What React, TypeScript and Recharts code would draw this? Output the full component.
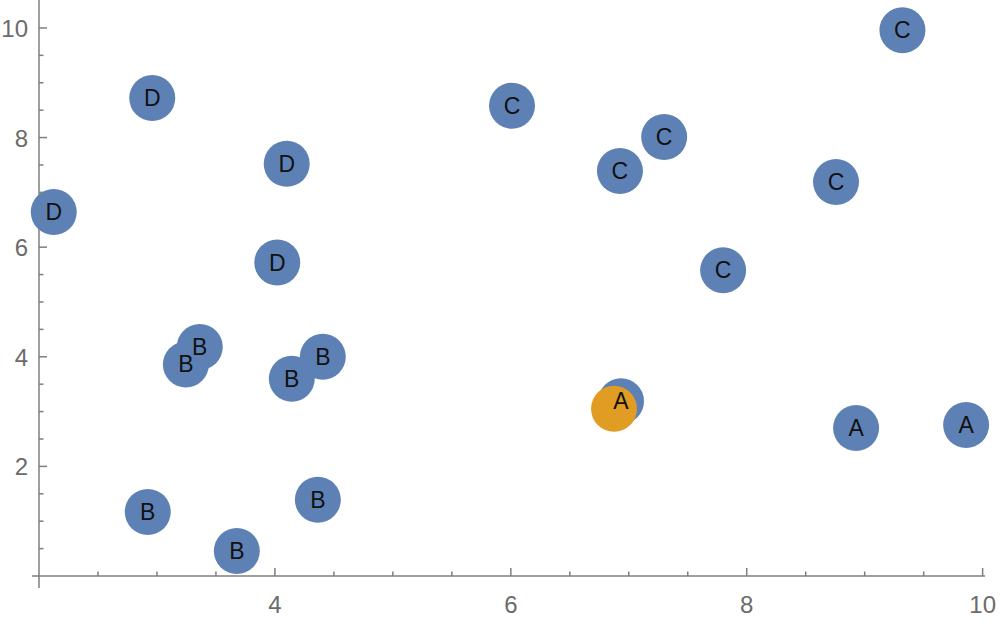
import { ScatterChart, Scatter, XAxis, YAxis, ReferenceLine } from 'recharts';

document.body.style.margin = '0';

// labelled points (blue)
const pointLabels = ['D', 'D', 'D', 'D', 'C', 'C', 'C', 'C', 'C', 'C', 'B', 'B', 'B', 'B', 'B', 'B', 'B', 'A', 'A', 'A'];
const pointX = [2.96, 4.1, 2.125, 4.02, 9.32, 6.01, 7.3, 6.925, 8.757, 7.8, 3.363, 3.245, 4.406, 4.143, 2.922, 4.364, 3.677, 6.934, 8.927, 9.86];
const pointY = [8.72, 7.52, 6.64, 5.72, 9.96, 8.58, 8.01, 7.39, 7.19, 5.58, 4.18, 3.86, 4.0, 3.6, 1.17, 1.39, 0.456, 3.19, 2.7, 2.755];

// highlighted point (orange)
const highlightX = [6.875];
const highlightY = [3.05];

const xTicks = [2.5, 3, 3.5, 4, 4.5, 5, 5.5, 6, 6.5, 7, 7.5, 8, 8.5, 9, 9.5, 10];
const yTicks = [0.5, 1, 1.5, 2, 2.5, 3, 3.5, 4, 4.5, 5, 5.5, 6, 6.5, 7, 7.5, 8, 8.5, 9, 9.5, 10];
const majorX = [4, 6, 8, 10];
const majorY = [2, 4, 6, 8, 10];

const BLUE = '#5e81b5';
const ORANGE = '#e19c24';
const AXIS = '#7f7f7f';
const FONT = '"Liberation Sans", Arial, sans-serif';

const points = pointLabels.map((label, i) => ({ x: pointX[i], y: pointY[i], label }));
const highlight = highlightX.map((x, i) => ({ x, y: highlightY[i] }));

function XTick({ x, y, payload }: any) {
  const major = majorX.includes(payload.value);
  return (
    <g>
      <line x1={x} x2={x} y1={y} y2={y - (major ? 8 : 4.5)} stroke={AXIS} strokeWidth={1.5} />
      {major && (
        <text x={x} y={y + 37} textAnchor="middle" fill="#6b6b6b" fontSize={24} fontFamily={FONT}>
          {payload.value}
        </text>
      )}
    </g>
  );
}

function YTick({ x, y, payload }: any) {
  const major = majorY.includes(payload.value);
  return (
    <g>
      <line x1={x} x2={x + (major ? 8 : 4.5)} y1={y} y2={y} stroke={AXIS} strokeWidth={1.5} />
      {major && (
        <text x={x - 11} y={y + 9} textAnchor="end" fill="#6b6b6b" fontSize={24} fontFamily={FONT}>
          {payload.value}
        </text>
      )}
    </g>
  );
}

const dot = (fill: string) => (props: any) => <circle cx={props.cx} cy={props.cy} r={23} fill={fill} />;

const labelShape = (props: any) => (
  <text
    x={props.cx}
    y={props.cy + 8}
    textAnchor="middle"
    fill="#111"
    fontSize={23}
    fontFamily={FONT}
  >
    {props.payload.label}
  </text>
);

export default function App() {
  return (
    <div style={{ width: 1000, height: 622, background: '#fff' }}>
      <ScatterChart width={1000} height={622} margin={{ top: 0, right: 15, left: 38, bottom: 45 }}>
        <XAxis
          type="number"
          dataKey="x"
          domain={[2, 10.02]}
          ticks={xTicks}
          height={1}
          axisLine={false}
          tickLine={false}
          tickSize={0}
          tickMargin={0}
          tick={<XTick />}
          interval={0}
        />
        <YAxis
          type="number"
          dataKey="y"
          domain={[0, 10.51]}
          ticks={yTicks}
          width={1}
          axisLine={false}
          tickLine={false}
          tickSize={0}
          tickMargin={0}
          tick={<YTick />}
          interval={0}
        />
        <ReferenceLine
          segment={[{ x: 1.94, y: 0 }, { x: 10.02, y: 0 }]}
          stroke={AXIS}
          strokeWidth={1.5}
          ifOverflow="visible"
        />
        <ReferenceLine
          segment={[{ x: 2, y: -0.22 }, { x: 2, y: 10.51 }]}
          stroke={AXIS}
          strokeWidth={1.5}
          ifOverflow="visible"
        />
        <Scatter data={points} shape={dot(BLUE)} isAnimationActive={false} />
        <Scatter data={highlight} shape={dot(ORANGE)} isAnimationActive={false} />
        <Scatter data={points} shape={labelShape} isAnimationActive={false} />
      </ScatterChart>
    </div>
  );
}
